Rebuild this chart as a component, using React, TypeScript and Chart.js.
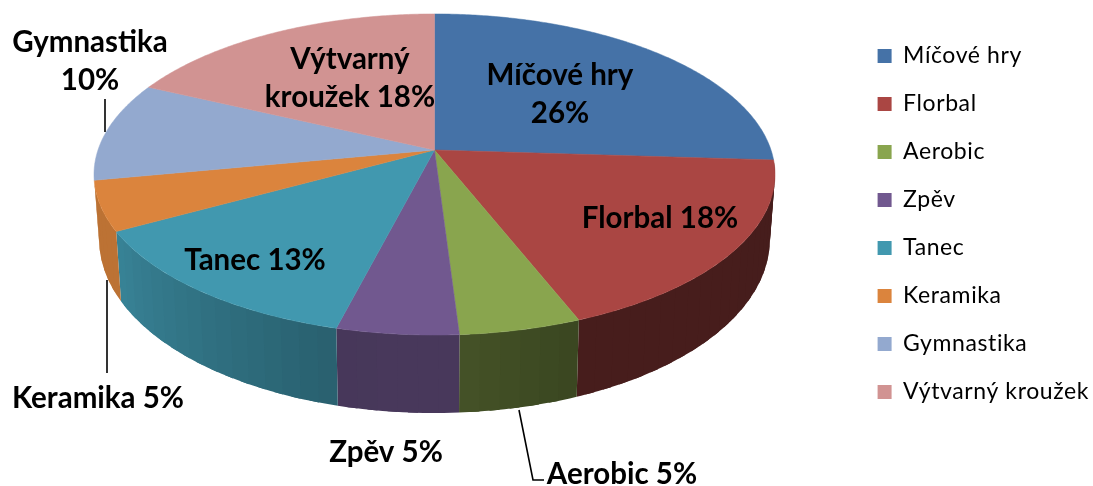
import React, { useEffect, useRef } from "react";
import { Chart, registerables } from "chart.js";

Chart.register(...registerables);

const categories = ["Míčové hry", "Florbal", "Aerobic", "Zpěv", "Tanec", "Keramika", "Gymnastika", "Výtvarný kroužek"];
const shares = [26, 18, 5, 5, 13, 5, 10, 18];
const colors = ["#4572A7", "#AA4643", "#89A54E", "#71588F", "#4198AF", "#DB843D", "#93A9CF", "#D19392"];

// Label placement (style, not data): centre of the text block in canvas pixels.
const labelLines: string[][] = [
  ["Míčové hry", "26%"],
  ["Florbal 18%"],
  ["Aerobic 5%"],
  ["Zpěv 5%"],
  ["Tanec 13%"],
  ["Keramika 5%"],
  ["Gymnastika", "10%"],
  ["Výtvarný", "kroužek 18%"],
];
const labelAnchors = [[560, 94], [660, 218], [622, 474], [386, 452], [255, 260], [98, 398], [90, 61], [350, 78]];
const leaderLines = [
  [[105, 99], [105, 132]],
  [[107, 280], [107, 373]],
  [[519, 410], [533, 480], [544, 480]],
];

// Projection of the tilted disc.
const CX = 434.5, CY = 150, A = 336.5, B = 156.8, K = 0.1526;
const project = (theta: number, r = 1) => {
  const x = Math.sin(theta) * r, y = -Math.cos(theta) * r;
  const w = 1 - K * y;
  return { px: CX + (A * x) / w, py: CY + (B * y) / w, y };
};
const projectBottom = (theta: number) => {
  const p = project(theta);
  return { px: CX + (p.px - CX) * 0.985, py: p.py + 62 + 16 * p.y };
};
const shadeStops = [[94, 0.41], [158, 0.42], [176.3, 0.5], [176.5, 0.64], [194, 0.63], [241, 0.86], [266, 0.86]];
const shade = (deg: number) => {
  for (let i = 1; i < shadeStops.length; i++) {
    const [d0, s0] = shadeStops[i - 1], [d1, s1] = shadeStops[i];
    if (deg <= d1) return s0 + ((s1 - s0) * (deg - d0)) / (d1 - d0);
  }
  return 0.86;
};
const tint = (hex: string, f: number) => {
  const n = parseInt(hex.slice(1), 16);
  return `rgb(${Math.round((n >> 16) * f)},${Math.round(((n >> 8) & 255) * f)},${Math.round((n & 255) * f)})`;
};

const LEGEND_TRACKING = "0.6px";
const LEGEND_SHIFT = 6;

const disc3d = {
  id: "disc3d",
  beforeLayout(chart: any) {
    chart.ctx.letterSpacing = LEGEND_TRACKING;
  },
  afterLayout(chart: any) {
    chart.legend.left += LEGEND_SHIFT;
    chart.legend.right += LEGEND_SHIFT;
  },
  beforeDraw(chart: any) {
    chart.ctx.letterSpacing = LEGEND_TRACKING;
  },
  beforeDatasetDraw(chart: any) {
    const ctx = chart.ctx;
    const arcs = chart.getDatasetMeta(0).data;
    const spans = arcs.map((a: any, i: number) => ({
      s: a.startAngle + Math.PI / 2,
      e: a.endAngle + Math.PI / 2,
      c: colors[i],
    }));
    const lo = (94 * Math.PI) / 180, hi = (259.1 * Math.PI) / 180;
    const band = (3 * Math.PI) / 180;
    ctx.save();
    // Walls, in overlapping bands whose shade follows the angle.
    spans.forEach((sp: any) => {
      const s = Math.max(sp.s, lo), e = Math.min(sp.e, hi);
      if (e <= s) return;
      const n = Math.ceil((e - s) / band);
      for (let j = 0; j < n; j++) {
        const t0 = s + ((e - s) * j) / n;
        const t1 = s + ((e - s) * (j + 1)) / n;
        const tEnd = Math.min(e, t1 + band / 2);
        ctx.fillStyle = tint(sp.c, shade((((t0 + t1) / 2) * 180) / Math.PI));
        ctx.beginPath();
        const steps = 4;
        for (let k = 0; k <= steps; k++) {
          const p = project(t0 + ((tEnd - t0) * k) / steps);
          k ? ctx.lineTo(p.px, p.py) : ctx.moveTo(p.px, p.py);
        }
        for (let k = steps; k >= 0; k--) {
          const p = projectBottom(t0 + ((tEnd - t0) * k) / steps);
          ctx.lineTo(p.px, p.py);
        }
        ctx.closePath();
        ctx.fill();
      }
    });
    // Top face.
    spans.forEach((sp: any) => {
      const n = Math.max(2, Math.ceil((sp.e - sp.s) / 0.01));
      ctx.fillStyle = sp.c;
      ctx.strokeStyle = sp.c;
      ctx.lineWidth = 0.5;
      ctx.beginPath();
      ctx.moveTo(CX, CY);
      for (let j = 0; j <= n; j++) {
        const p = project(sp.s + ((sp.e - sp.s) * j) / n);
        ctx.lineTo(p.px, p.py);
      }
      ctx.closePath();
      ctx.fill();
      ctx.stroke();
    });
    ctx.restore();
    return false;
  },
  afterDatasetsDraw(chart: any) {
    const ctx = chart.ctx;
    ctx.save();
    ctx.strokeStyle = "#000";
    ctx.lineWidth = 1.6;
    leaderLines.forEach((l) => {
      ctx.beginPath();
      l.forEach(([x, y], i) => (i ? ctx.lineTo(x, y) : ctx.moveTo(x, y)));
      ctx.stroke();
    });
    ctx.fillStyle = "#000";
    ctx.font = "bold 29.5px Lato";
    ctx.letterSpacing = "0px";
    ctx.textAlign = "center";
    ctx.textBaseline = "middle";
    labelLines.forEach((lines, i) => {
      const [x, y] = labelAnchors[i];
      lines.forEach((t, k) => ctx.fillText(t, x, y + (k - (lines.length - 1) / 2) * 38));
    });
    ctx.restore();
  },
};

export default function App() {
  const ref = useRef<HTMLCanvasElement>(null);
  useEffect(() => {
    const chart = new Chart(ref.current!, {
      type: "pie",
      data: {
        labels: categories,
        datasets: [{ data: shares, backgroundColor: colors, borderWidth: 0 }],
      },
      options: {
        responsive: false,
        animation: false,
        devicePixelRatio: 1,
        layout: { padding: { bottom: 38, right: 0 } },
        plugins: {
          tooltip: { enabled: false },
          legend: {
            position: "right",
            labels: {
              boxWidth: 14,
              boxHeight: 14,
              padding: 25,
              color: "#000",
              font: { family: "Lato", size: 23 },
            },
          },
        },
      },
      plugins: [disc3d],
    } as any);
    return () => chart.destroy();
  }, []);
  return (
    <div style={{ position: "absolute", left: 0, top: 0, width: 1093, height: 486, background: "#fff" }}>
      <canvas ref={ref} width={1093} height={486} style={{ display: "block", filter: "blur(0.4px)" }} />
    </div>
  );
}
